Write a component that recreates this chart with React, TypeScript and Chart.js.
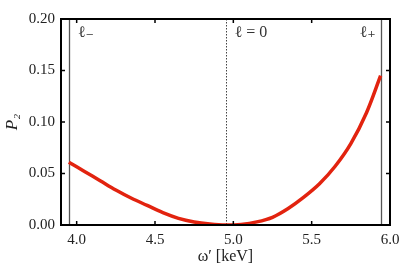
import React, { useEffect, useRef } from "react";
import { Chart, registerables } from "chart.js";

Chart.register(...registerables);

const omegaKeV = [3.95, 4.05, 4.15, 4.25, 4.35, 4.45, 4.55, 4.65, 4.75, 4.85, 4.95, 5.05, 5.15, 5.25, 5.35, 5.45, 5.55, 5.65, 5.75, 5.85, 5.94];
const p2Values = [0.061, 0.052, 0.043, 0.034, 0.026, 0.019, 0.012, 0.0065, 0.003, 0.001, 0.0, 0.0006, 0.003, 0.0075, 0.016, 0.027, 0.04, 0.057, 0.079, 0.109, 0.145];
const xTicks = [4.0, 4.5, 5.0, 5.5, 6.0];
const yTicks = [0.0, 0.05, 0.1, 0.15, 0.2];
const markerX = [3.95, 4.95, 5.94];
const markerLabels = ["ℓ₋", "ℓ = 0", "ℓ₊"];
const markerDash = [false, true, false];

const FONT = "'Liberation Serif', 'DejaVu Serif', serif";

const framePlugin = {
  id: "frame",
  beforeDatasetsDraw(chart: any) {
    const { ctx, chartArea } = chart;
    const xs = chart.scales.x;
    ctx.save();
    markerX.forEach((v, i) => {
      const px = Math.round(xs.getPixelForValue(v)) + 0.5;
      ctx.beginPath();
      ctx.lineWidth = markerDash[i] ? 1 : 1.3;
      ctx.strokeStyle = markerDash[i] ? "#444" : "#555";
      ctx.setLineDash(markerDash[i] ? [1.5, 1.5] : []);
      ctx.moveTo(px, chartArea.top);
      ctx.lineTo(px, chartArea.bottom);
      ctx.stroke();
    });
    ctx.restore();
  },
  afterDatasetsDraw(chart: any) {
    const { ctx, chartArea } = chart;
    const xs = chart.scales.x;
    const ys = chart.scales.y;
    ctx.save();
    ctx.setLineDash([]);
    ctx.strokeStyle = "#000";
    ctx.lineWidth = 2;
    ctx.strokeRect(chartArea.left, chartArea.top, chartArea.right - chartArea.left, chartArea.bottom - chartArea.top);
    ctx.lineWidth = 1.5;
    const tl = 4;
    xTicks.forEach((v) => {
      const px = xs.getPixelForValue(v);
      ctx.beginPath();
      ctx.moveTo(px, chartArea.bottom);
      ctx.lineTo(px, chartArea.bottom - tl);
      ctx.moveTo(px, chartArea.top);
      ctx.lineTo(px, chartArea.top + tl);
      ctx.stroke();
    });
    yTicks.forEach((v) => {
      const py = ys.getPixelForValue(v);
      ctx.beginPath();
      ctx.moveTo(chartArea.left, py);
      ctx.lineTo(chartArea.left + tl, py);
      ctx.moveTo(chartArea.right, py);
      ctx.lineTo(chartArea.right - tl, py);
      ctx.stroke();
    });
    ctx.fillStyle = "#333";
    ctx.font = `16px ${FONT}`;
    ctx.textBaseline = "middle";
    markerX.forEach((v, i) => {
      const px = xs.getPixelForValue(v);
      const y = chartArea.top + 14;
      if (i === markerX.length - 1) {
        ctx.textAlign = "right";
        ctx.fillText(markerLabels[i], px - 5, y);
      } else {
        ctx.textAlign = "left";
        ctx.fillText(markerLabels[i], px + 9, y);
      }
    });
    ctx.restore();
  },
};

export default function App() {
  const ref = useRef<HTMLCanvasElement | null>(null);
  useEffect(() => {
    if (!ref.current) return;
    const chart = new Chart(ref.current, {
      type: "line",
      data: {
        datasets: [
          {
            data: omegaKeV.map((x, i) => ({ x, y: p2Values[i] })),
            borderColor: "#e2230f",
            borderWidth: 3.5,
            pointRadius: 0,
            tension: 0.35,
            fill: false,
          },
        ],
      },
      options: {
        responsive: false,
        animation: false,
        layout: { padding: { left: 0, right: 21, top: 19, bottom: 0 } },
        plugins: { legend: { display: false }, tooltip: { enabled: false } },
        scales: {
          x: {
            type: "linear",
            min: 3.9,
            max: 6.0,
            grid: { display: false, drawTicks: false },
            border: { display: false },
            afterBuildTicks: (s: any) => {
              s.ticks = xTicks.map((v) => ({ value: v }));
            },
            afterFit: (s: any) => {
              s.height = 49;
            },
            ticks: {
              padding: 6,
              color: "#222",
              font: { family: FONT, size: 15 },
              callback: (v: any) => Number(v).toFixed(1),
              maxRotation: 0,
            },
            title: {
              display: true,
              text: "ω′ [keV]",
              color: "#222",
              font: { family: FONT, size: 16 },
              padding: { top: 0, bottom: 8 },
            },
          },
          y: {
            type: "linear",
            min: 0,
            max: 0.2,
            grid: { display: false, drawTicks: false },
            border: { display: false },
            afterBuildTicks: (s: any) => {
              s.ticks = yTicks.map((v) => ({ value: v }));
            },
            afterFit: (s: any) => {
              s.width = 61;
            },
            ticks: {
              padding: 6,
              color: "#222",
              font: { family: FONT, size: 15 },
              callback: (v: any) => Number(v).toFixed(2),
            },
            title: {
              display: true,
              text: "P₂",
              color: "#222",
              font: { family: FONT, size: 17, style: "italic" },
              padding: { top: 2, bottom: 0 },
            },
          },
        },
      },
      plugins: [framePlugin],
    });
    return () => chart.destroy();
  }, []);
  return (
    <div style={{ position: "absolute", left: 0, top: 0, width: 411, height: 274, background: "#fff" }}>
      <canvas ref={ref} width={411} height={274} />
    </div>
  );
}
